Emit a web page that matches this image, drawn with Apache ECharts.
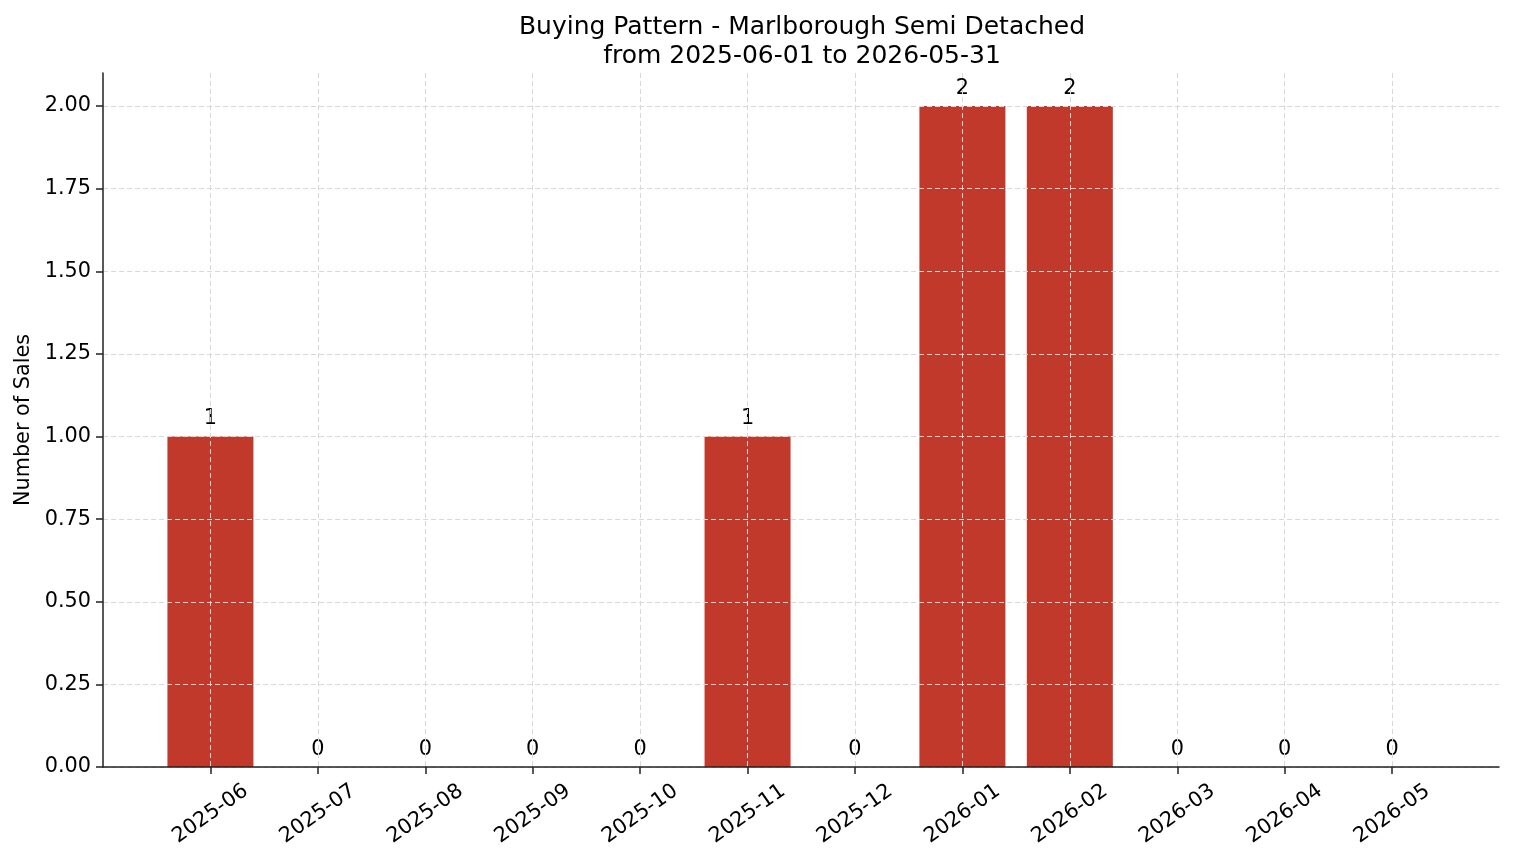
<!DOCTYPE html>
<html>
<head>
<meta charset="utf-8">
<style>
  html, body { margin: 0; padding: 0; background: #fff; }
  #chart { width: 1514px; height: 863px; }
</style>
</head>
<body>
<div id="chart"></div>
<script src="https://cdn.jsdelivr.net/npm/echarts@6/dist/echarts.min.js"></script>
<script>
    const months = ['2025-06', '2025-07', '2025-08', '2025-09', '2025-10', '2025-11',
                    '2025-12', '2026-01', '2026-02', '2026-03', '2026-04', '2026-05'];
    const sales = [1, 0, 0, 0, 0, 1, 0, 2, 2, 0, 0, 0];
    const yTicks = [0, 0.25, 0.5, 0.75, 1.0, 1.25, 1.5, 1.75, 2.0];

    const font = 'DejaVu Sans';
    const myChart = echarts.init(document.getElementById('chart'));

    const option = {
        animation: false,
        title: {
            text: 'Buying Pattern - Marlborough Semi Detached\nfrom 2025-06-01 to 2026-05-31',
            left: 797,
            top: 8,
            textAlign: 'center',
            textStyle: { fontFamily: font, fontSize: 25, fontWeight: 'normal', color: '#000', lineHeight: 29 }
        },
        grid: { left: 103, right: 15, top: 73, bottom: 96 },
        xAxis: {
            type: 'value',
            min: -1.0,
            max: 11.995,
            z: 5,
            axisLine: { show: true, onZero: false, lineStyle: { color: '#222', width: 1.5 } },
            axisTick: { show: true, length: 7, customValues: months.map((m, i) => i), lineStyle: { color: '#222', width: 1.5 } },
            axisLabel: {
                customValues: months.map((m, i) => i),
                formatter: v => months[Math.round(v)] || '',
                rotate: 35,
                align: 'center',
                verticalAlign: 'middle',
                margin: 47,
                fontFamily: font,
                fontSize: 20.8,
                color: '#000'
            },
            splitLine: { show: true, lineStyle: { color: '#d9d9d9', type: [5, 3], width: 1 } }
        },
        yAxis: {
            type: 'value',
            min: 0,
            max: 2.1,
            z: 5,
            name: 'Number of Sales',
            nameLocation: 'middle',
            nameGap: 68,
            nameTextStyle: { fontFamily: font, fontSize: 20.8, color: '#000' },
            axisLine: { show: true, onZero: false, lineStyle: { color: '#222', width: 1.5 } },
            axisTick: { show: true, length: 7, customValues: yTicks, lineStyle: { color: '#222', width: 1.5 } },
            axisLabel: {
                customValues: yTicks,
                formatter: v => v.toFixed(2),
                margin: 12,
                fontFamily: font,
                fontSize: 20.8,
                color: '#000'
            },
            splitLine: { show: true, lineStyle: { color: '#d9d9d9', type: [5, 3], width: 1 } }
        },
        series: [{
            type: 'bar',
            data: sales.map((v, i) => [i, v]),
            barWidth: 86,
            itemStyle: { color: '#c0392b' },
            label: {
                show: true,
                position: 'top',
                distance: 7,
                formatter: p => String(p.value[1]),
                fontFamily: font,
                fontSize: 20.8,
                color: '#000'
            }
        }]
    };

    myChart.setOption(option);
</script>
</body>
</html>
